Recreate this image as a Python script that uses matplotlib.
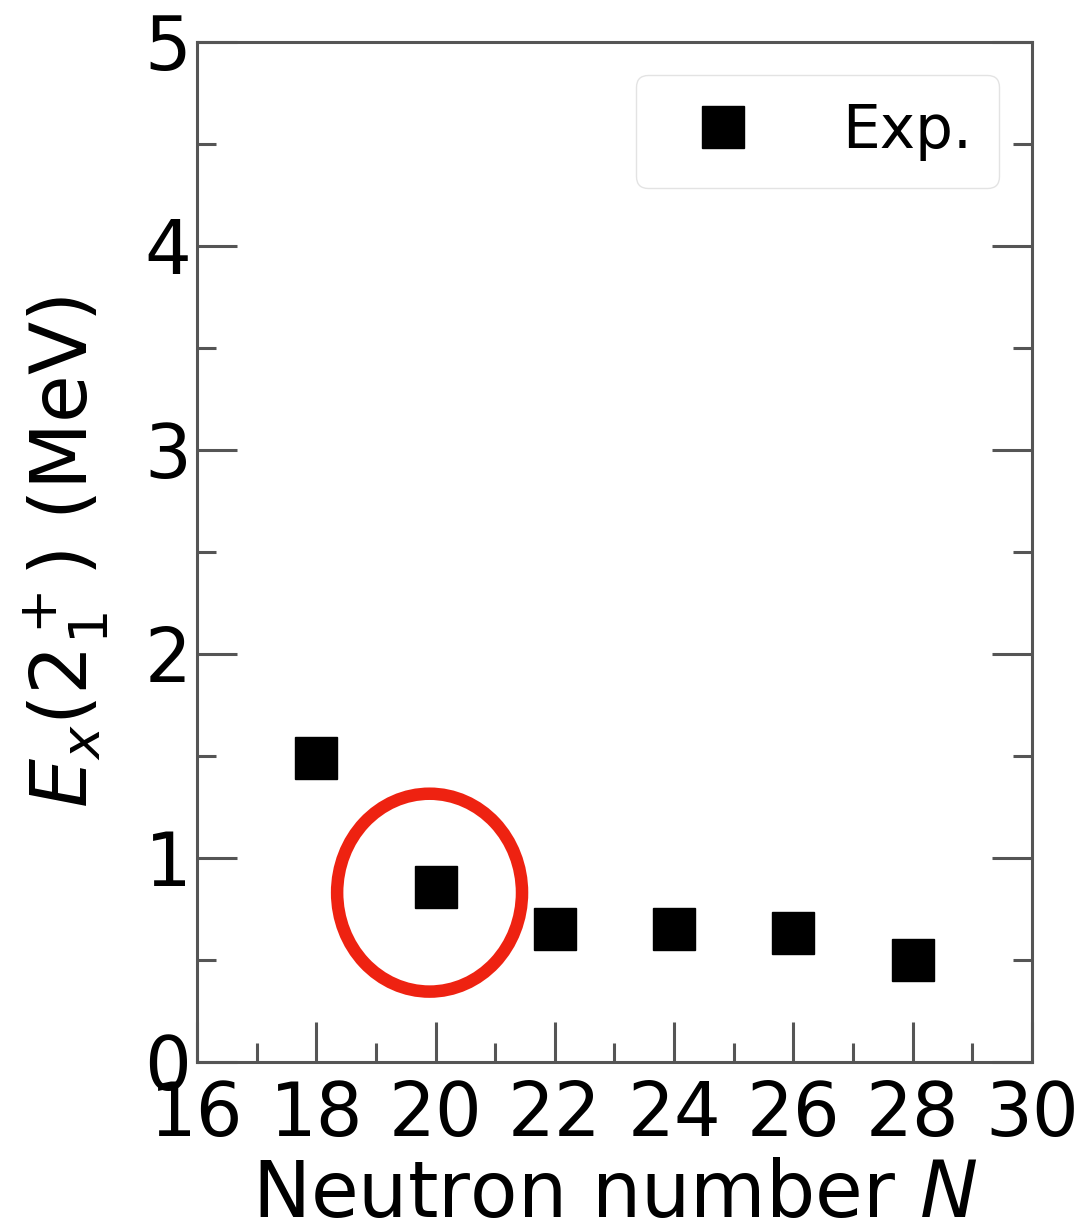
import numpy as np
import matplotlib
matplotlib.use("Agg")
import matplotlib.pyplot as plt
from matplotlib.patches import Ellipse
from matplotlib.ticker import MultipleLocator

# data
neutron_number = [18, 20, 22, 24, 26, 28]
energy_exp = [1.49, 0.86, 0.65, 0.65, 0.63, 0.50]

x_ticks = [16, 18, 20, 22, 24, 26, 28, 30]
y_ticks = [0, 1, 2, 3, 4, 5]

fig = plt.figure(figsize=(10.84, 12.31), dpi=100)
ax = fig.add_axes([0.1817, 0.1373, 0.7703, 0.8286])

ax.plot(neutron_number, energy_exp, 's', color='black', markersize=30,
        linestyle='none', label='Exp.')

# red circle round the N=20 point
ax.add_patch(Ellipse((19.9, 0.83), 3.1, 0.97, fill=False,
                     edgecolor='#ee2211', linewidth=9, zorder=5))

ax.set_xlim(16, 30)
ax.set_ylim(0, 5)
ax.set_xticks(x_ticks)
ax.set_yticks(y_ticks)
ax.xaxis.set_minor_locator(MultipleLocator(1))
ax.yaxis.set_minor_locator(MultipleLocator(0.5))

spine_col = '#555555'
for s in ax.spines.values():
    s.set_color(spine_col)
    s.set_linewidth(2.2)

ax.tick_params(which='both', direction='in', right=True, top=False,
               color=spine_col, width=2.2, labelsize=53, pad=4)
ax.tick_params(which='major', length=29)
ax.tick_params(which='minor', length=14)
ax.tick_params(axis='x', pad=12)

ax.set_xlabel('Neutron number $N$', fontsize=56, labelpad=4)
ax.set_ylabel('$E_x(2_1^+)$ (MeV)', fontsize=56, labelpad=24)

leg = ax.legend(loc='upper right', fontsize=43, frameon=True,
                borderpad=0.45, handletextpad=1.0, markerscale=1.0,
                borderaxespad=0.55)
leg.get_frame().set_edgecolor('#dddddd')

fig.savefig('out.png', dpi=100)
